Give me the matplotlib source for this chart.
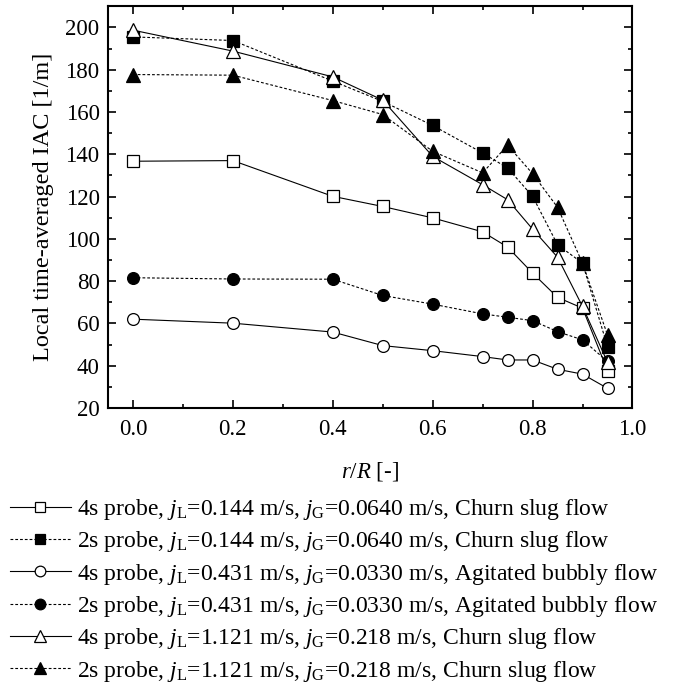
import matplotlib
matplotlib.use("Agg")
import matplotlib.pyplot as plt
from matplotlib.ticker import MultipleLocator, FormatStrFormatter

plt.rcParams['font.family'] = 'Liberation Serif'
plt.rcParams['mathtext.fontset'] = 'custom'
plt.rcParams['mathtext.rm'] = 'Liberation Serif'
plt.rcParams['mathtext.it'] = 'Liberation Serif:italic'
plt.rcParams['font.size'] = 17

r = [0.0, 0.2, 0.4, 0.5, 0.6, 0.7, 0.75, 0.8, 0.85, 0.9, 0.95]

iac_4s_a = [136.7, 137.0, 120.1, 115.3, 109.9, 103.3, 96.1, 83.8, 72.3, 67.2, 37.7]
iac_2s_a = [195.5, 193.8, 174.6, 165.0, 153.6, 140.6, 133.5, 120.1, 97.2, 88.5, 49.0]
iac_4s_b = [62.0, 60.1, 55.9, 49.5, 47.1, 44.3, 42.7, 42.7, 38.3, 36.0, 29.3]
iac_2s_b = [81.6, 81.0, 80.9, 73.2, 69.1, 64.5, 62.9, 61.3, 56.1, 52.2, 42.0]
iac_4s_c = [198.7, 188.8, 176.6, 165.6, 139.0, 125.6, 118.5, 104.6, 91.3, 68.0, 41.6]
iac_2s_c = [177.7, 177.4, 165.4, 158.8, 141.4, 131.2, 144.3, 130.8, 114.9, 88.5, 54.5]

labels = [
    r"4s probe, $j_\mathrm{L}$=0.144 m/s, $j_\mathrm{G}$=0.0640 m/s, Churn slug flow",
    r"2s probe, $j_\mathrm{L}$=0.144 m/s, $j_\mathrm{G}$=0.0640 m/s, Churn slug flow",
    r"4s probe, $j_\mathrm{L}$=0.431 m/s, $j_\mathrm{G}$=0.0330 m/s, Agitated bubbly flow",
    r"2s probe, $j_\mathrm{L}$=0.431 m/s, $j_\mathrm{G}$=0.0330 m/s, Agitated bubbly flow",
    r"4s probe, $j_\mathrm{L}$=1.121 m/s, $j_\mathrm{G}$=0.218 m/s, Churn slug flow",
    r"2s probe, $j_\mathrm{L}$=1.121 m/s, $j_\mathrm{G}$=0.218 m/s, Churn slug flow",
]

series = [iac_4s_a, iac_2s_a, iac_4s_b, iac_2s_b, iac_4s_c, iac_2s_c]
markers = ['s', 's', 'o', 'o', '^', '^']
sizes = [8, 8, 8.5, 8.5, 9.5, 9.5]
filled = [False, True, False, True, False, True]

fig = plt.figure(figsize=(6.92, 6.95), dpi=100)
ax = fig.add_axes([0.156, 0.413, 0.758, 0.578])

for y, m, ms, f, lab in zip(series, markers, sizes, filled, labels):
    ls = (0, (2.5, 1.8)) if f else '-'
    ax.plot(r, y, linestyle=ls, color='black', lw=0.8, marker=m, ms=ms,
            markerfacecolor='black' if f else 'white', markeredgecolor='black',
            markeredgewidth=0.9, label=lab)

ax.set_xlim(-0.05, 1.0)
ax.set_ylim(20, 210)
ax.xaxis.set_major_locator(MultipleLocator(0.2))
ax.xaxis.set_minor_locator(MultipleLocator(0.1))
ax.xaxis.set_major_formatter(FormatStrFormatter('%.1f'))
ax.yaxis.set_major_locator(MultipleLocator(20))
ax.yaxis.set_minor_locator(MultipleLocator(10))
ax.tick_params(which='both', direction='in', top=True, right=True, width=1.2,
               labelsize=16.5)
ax.tick_params(which='major', length=6)
ax.tick_params(axis='x', which='major', pad=8)
ax.tick_params(axis='y', which='major', pad=6)
ax.tick_params(which='minor', length=3)
for s in ax.spines.values():
    s.set_linewidth(1.5)

ax.set_xlabel(r"$r/R$ [-]", fontsize=16.5, labelpad=14)
ax.set_ylabel("Local time-averaged IAC [1/m]", fontsize=17.5, labelpad=8)

fig.legend(loc='upper left', bbox_to_anchor=(0.014, 0.285), frameon=False,
           fontsize=17, handlelength=2.6, handletextpad=0.25,
           labelspacing=0.31, borderaxespad=0, borderpad=0, markerscale=0.9)

plt.savefig('out.png', dpi=100)
